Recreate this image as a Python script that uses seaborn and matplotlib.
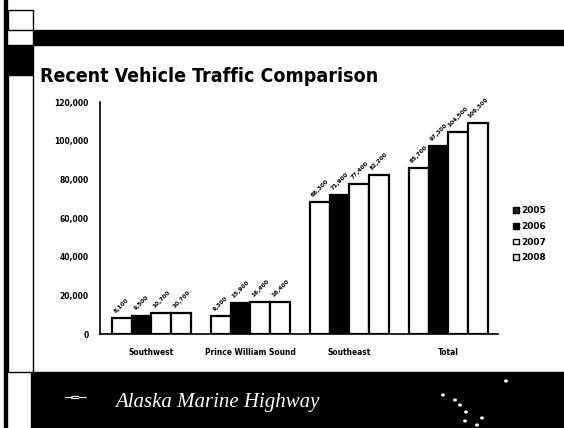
import pandas as pd
import seaborn as sns
import matplotlib.pyplot as plt
from matplotlib.patches import Rectangle, Circle, Patch

regions = ["Southwest", "Prince William Sound", "Southeast", "Total"]
years = ["2005", "2006", "2007", "2008"]
traffic = {
    "2005": [8100, 9300, 68300, 85700],
    "2006": [9500, 15900, 71900, 97300],
    "2007": [10700, 16400, 77400, 104500],
    "2008": [10700, 16400, 82200, 109300],
}
yticks = [0, 20000, 40000, 60000, 80000, 100000, 120000]

rows = []
for yr in years:
    for reg, val in zip(regions, traffic[yr]):
        rows.append({"Region": reg, "Year": yr, "Vehicles": val})
df = pd.DataFrame(rows)

sns.set_style("white")
plt.rcParams.update({"text.color": "black", "xtick.color": "black",
                     "ytick.color": "black", "axes.labelcolor": "black"})

fig = plt.figure(figsize=(5.64, 4.28), dpi=100)
W, H = 564, 428

def box(x, y, w, h, **kw):
    # slide decoration in pixel coords (top-left origin)
    fig.patches.append(Rectangle((x / W, 1 - (y + h) / H), w / W, h / H,
                                 transform=fig.transFigure, **kw))

# slide frame: header band, side blocks, footer band
box(4, 0, 3, 428, color="black")
box(8, 10, 25, 20, fill=False, ec="black", lw=1)
box(33, 30, 531, 15, color="black")
box(5, 45, 28, 29, color="black")
box(8, 75, 25, 297, fill=False, ec="black", lw=1)
box(31, 372, 533, 56, color="black")
fig.text(115 / W, 1 - 402 / H, "Alaska Marine Highway", color="white",
         fontsize=15, style="italic", family="Liberation Serif", va="center")
fig.text(75 / W, 1 - 398 / H, "\u2500\u2550\u2500", color="white",
         fontsize=9, va="center", ha="center")
for sx, sy in [(443, 395), (455, 400), (460, 405), (466, 412),
               (465, 421), (477, 425), (482, 418), (506, 381)]:
    fig.patches.append(Circle((sx / W, 1 - sy / H), 1.2 / W,
                              transform=fig.transFigure, color="white"))

fig.text(40 / W, 1 - 76 / H, "Recent Vehicle Traffic Comparison",
         fontweight="bold", fontstretch="condensed", fontsize=14,
         va="center")

ax = fig.add_axes([100 / W, 1 - 334 / H, 398 / W, 232 / H])
palette = {"2005": "white", "2006": "black", "2007": "white", "2008": "white"}
sns.barplot(data=df, x="Region", y="Vehicles", hue="Year", palette=palette,
            edgecolor="black", linewidth=1.6, width=0.8, ax=ax, legend=False)

for cont, yr in zip(ax.containers, years):
    ax.bar_label(cont, labels=[f"{v:,}" for v in traffic[yr]], rotation=45,
                 padding=3, fontsize=4.2, fontweight="bold")

ax.set_ylim(0, 120000)
ax.set_xlim(-0.52, 3.5)
ax.set_yticks(yticks)
ax.set_yticklabels([f"{t:,}" for t in yticks], fontsize=5.5, fontweight="bold")
ax.set_xticks(range(len(regions)))
ax.set_xticklabels(regions, fontsize=6, fontweight="bold",
                   fontstretch="condensed")
ax.tick_params(axis="x", pad=10, length=0)
ax.tick_params(axis="y", pad=8, length=0)
ax.set_xlabel("")
ax.set_ylabel("")
sns.despine(ax=ax)
for s in ["left", "bottom"]:
    ax.spines[s].set_color("black")
    ax.spines[s].set_linewidth(1.2)

handles = [Patch(facecolor=c, edgecolor="black", lw=1)
           for c in ["#222222", "black", "#eeeeee", "#dddddd"]]
fig.legend(handles, years, loc="upper left",
           bbox_to_anchor=(505 / W, 1 - 198 / H), frameon=False,
           prop={"size": 6.5, "weight": "bold"}, handlelength=0.6,
           handleheight=0.6, handletextpad=0.3, labelspacing=0.75)

fig.savefig("out.png", dpi=100)
